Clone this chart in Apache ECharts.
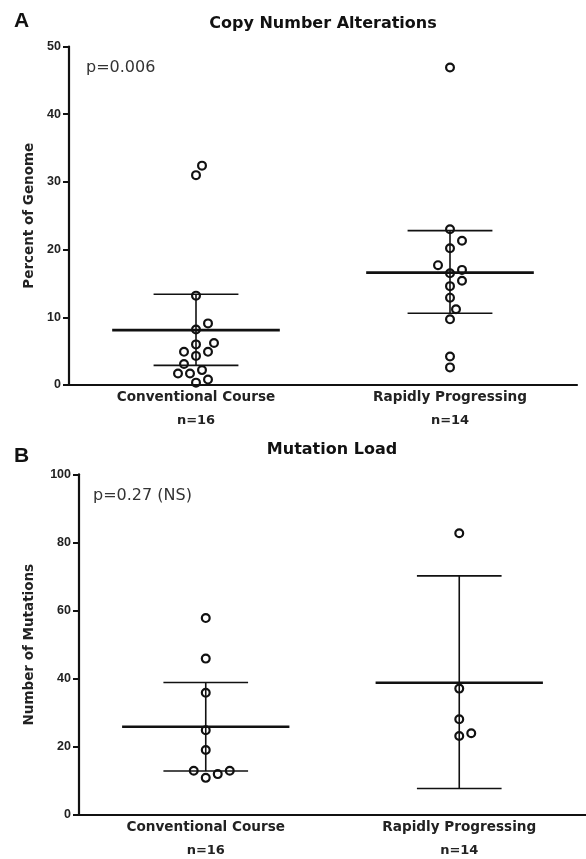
<!DOCTYPE html>
<html>
<head>
<meta charset="utf-8">
<script src="https://cdn.jsdelivr.net/npm/echarts@6/dist/echarts.min.js"></script>
<style>html,body{margin:0;padding:0;background:#fff}#c{width:586px;height:859px}</style>
</head>
<body>
<div id="c"></div>
<script>
// ---- Data ----
const categories = ['Conventional Course', 'Rapidly Progressing'];
const groupSizes = ['n=16', 'n=14'];

// Panel A: Copy Number Alterations (percent of genome)
const cnaConventional = [32.4, 31.0, 13.2, 9.1, 8.2, 6.2, 6.0, 4.9, 4.9, 4.3, 3.1, 2.2, 1.7, 1.7, 0.8, 0.35];
const cnaRapid = [46.9, 23.0, 21.3, 20.2, 17.7, 17.0, 16.5, 15.4, 14.6, 12.9, 11.2, 9.7, 4.2, 2.6];
const cnaMean = [8.1, 16.6];
const cnaLow = [2.9, 10.6];
const cnaHigh = [13.4, 22.8];
const cnaTicks = [0, 10, 20, 30, 40, 50];

// Panel B: Mutation Load (number of mutations)
const mutConventional = [57.8, 45.9, 35.9, 24.9, 19.1, 13.0, 13.0, 12.0, 10.9];
const mutRapid = [82.7, 37.1, 28.1, 24.0, 23.2];
const mutMean = [25.9, 38.8];
const mutLow = [12.9, 7.8];
const mutHigh = [38.9, 70.2];
const mutTicks = [0, 20, 40, 60, 80, 100];

const FONT = '"Liberation Sans", Arial, Helvetica, sans-serif';
const WIDE = '"DejaVu Sans", Verdana, sans-serif';
const INK = '#111';

// beeswarm-style placement computed in pixel space from the library's scale
function swarmSeries(catIndex, values, axisIdx) {
  return {
    type: 'custom',
    xAxisIndex: axisIdx, yAxisIndex: axisIdx,
    data: values.map(v => [catIndex, v]),
    encode: { x: 0, y: 1 },
    z: 3,
    renderItem: function (params, api) {
      const ctx = params.context;
      if (!ctx.pos) {
        const step = 6, diam = 10.5;
        const pts = values.map((v, i) => ({ i, v, p: api.coord([catIndex, v]) }));
        const order = pts.slice().sort((a, b) => a.v - b.v);
        const placed = [];
        const seq = [0];
        for (let s = 1; s < 20; s++) { seq.push(s, -s); }
        ctx.pos = [];
        order.forEach(pt => {
          let x = pt.p[0];
          for (let k = 0; k < seq.length; k++) {
            x = pt.p[0] + seq[k] * step;
            const ok = placed.every(q => Math.hypot(q[0] - x, q[1] - pt.p[1]) >= diam);
            if (ok) break;
          }
          placed.push([x, pt.p[1]]);
          ctx.pos[pt.i] = [x, pt.p[1]];
        });
      }
      const p = ctx.pos[params.dataIndex];
      return {
        type: 'circle',
        shape: { cx: p[0], cy: p[1], r: 3.9 },
        style: { fill: 'transparent', stroke: INK, lineWidth: 2.2 }
      };
    }
  };
}

function barsSeries(means, lows, highs, axisIdx) {
  return {
    type: 'custom',
    xAxisIndex: axisIdx, yAxisIndex: axisIdx,
    data: means.map((m, i) => [i, m, lows[i], highs[i]]),
    encode: { x: 0, y: [1, 2, 3] },
    z: 4,
    renderItem: function (params, api) {
      const ci = api.value(0);
      const c = api.coord([ci, api.value(1)]);
      const lo = api.coord([ci, api.value(2)]);
      const hi = api.coord([ci, api.value(3)]);
      const bw = api.size([1, 0])[0];
      const mh = bw * 0.33, ch = bw * 0.167;
      const thin = { stroke: INK, lineWidth: 1.6 };
      return {
        type: 'group',
        children: [
          { type: 'line', shape: { x1: c[0], y1: hi[1], x2: c[0], y2: lo[1] }, style: thin },
          { type: 'line', shape: { x1: c[0] - ch, y1: hi[1], x2: c[0] + ch, y2: hi[1] }, style: thin },
          { type: 'line', shape: { x1: c[0] - ch, y1: lo[1], x2: c[0] + ch, y2: lo[1] }, style: thin },
          { type: 'line', shape: { x1: c[0] - mh, y1: c[1], x2: c[0] + mh, y2: c[1] }, style: { stroke: INK, lineWidth: 2.6 } }
        ]
      };
    }
  };
}

function xAxis(gi) {
  return {
    type: 'category', gridIndex: gi, data: categories,
    axisLine: { lineStyle: { color: INK, width: 2.2 } },
    axisTick: { show: false },
    axisLabel: {
      margin: 1, interval: 0,
      formatter: (val, idx) => '{a|' + val + '}\n{b|' + groupSizes[idx] + '}',
      rich: {
        a: { fontFamily: WIDE, fontWeight: 'bold', fontSize: 13.6, color: '#222', lineHeight: 23 },
        b: { fontFamily: WIDE, fontWeight: 'bold', fontSize: 13, color: '#222', lineHeight: 23 }
      }
    }
  };
}

function yAxis(gi, ticks, name, gap) {
  return {
    type: 'value', gridIndex: gi,
    min: ticks[0], max: ticks[ticks.length - 1], interval: ticks[1] - ticks[0],
    name: name, nameLocation: 'middle', nameGap: gap, nameRotate: 90,
    nameTextStyle: { fontFamily: WIDE, fontWeight: 'bold', fontSize: 13.5, color: '#222' },
    axisLine: { show: true, lineStyle: { color: INK, width: 2.2 } },
    axisTick: { show: true, length: 6, lineStyle: { color: INK, width: 2 } },
    axisLabel: { margin: 8, fontFamily: FONT, fontWeight: 'bold', fontSize: 12.5, color: '#222' },
    splitLine: { show: false }
  };
}

const chart = echarts.init(document.getElementById('c'), null, { renderer: 'canvas' });
chart.setOption({
  backgroundColor: '#fff',
  animation: false,
  title: [
    { text: 'A', left: 14, top: 11, padding: 0, textStyle: { fontFamily: FONT, fontWeight: 'bold', fontSize: 21, color: '#111' } },
    { text: 'Copy Number Alterations', left: 323, textAlign: 'center', top: 16, padding: 0, textStyle: { fontFamily: WIDE, fontWeight: 'bold', fontSize: 16, color: '#111' } },
    { text: 'p=0.006', left: 86, top: 60, padding: 0, textStyle: { fontFamily: WIDE, fontWeight: 'normal', fontSize: 16, color: '#333' } },
    { text: 'B', left: 14, top: 446, padding: 0, textStyle: { fontFamily: FONT, fontWeight: 'bold', fontSize: 21, color: '#111' } },
    { text: 'Mutation Load', left: 332, textAlign: 'center', top: 442, padding: 0, textStyle: { fontFamily: WIDE, fontWeight: 'bold', fontSize: 16, color: '#111' } },
    { text: 'p=0.27 (NS)', left: 93, top: 488, padding: 0, textStyle: { fontFamily: WIDE, fontWeight: 'normal', fontSize: 16, color: '#333' } }
  ],
  grid: [
    { left: 69, right: 9, top: 46.5, bottom: 474 },
    { left: 79, right: 0, top: 474.3, bottom: 44 }
  ],
  xAxis: [xAxis(0), xAxis(1)],
  yAxis: [yAxis(0, cnaTicks, 'Percent of Genome', 33), yAxis(1, mutTicks, 'Number of Mutations', 43)],
  series: [
    swarmSeries(0, cnaConventional, 0),
    swarmSeries(1, cnaRapid, 0),
    barsSeries(cnaMean, cnaLow, cnaHigh, 0),
    swarmSeries(0, mutConventional, 1),
    swarmSeries(1, mutRapid, 1),
    barsSeries(mutMean, mutLow, mutHigh, 1)
  ]
});
</script>
</body>
</html>
